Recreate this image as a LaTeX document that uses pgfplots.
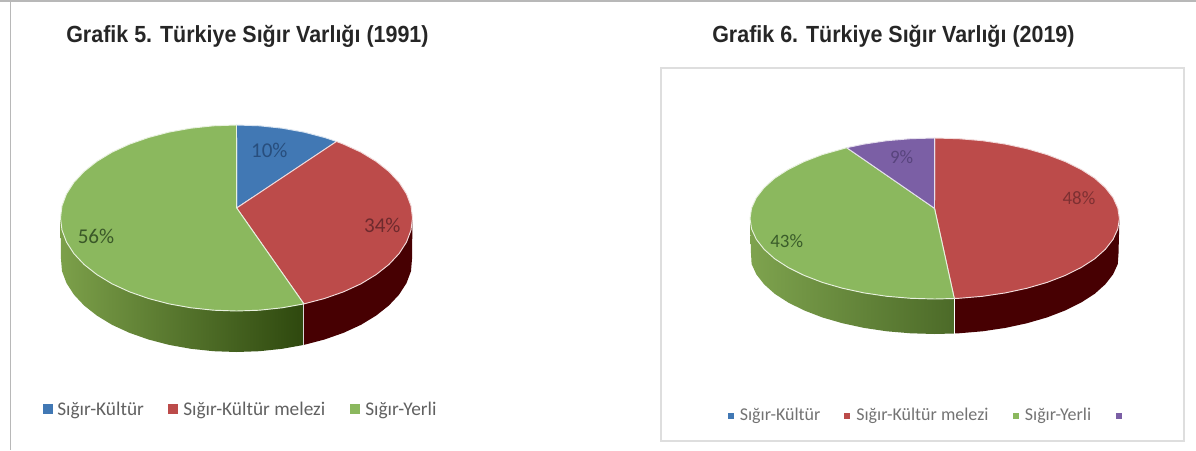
\documentclass[border=0pt]{standalone}
\usepackage{fontspec}
\usepackage{pgfplots}
\pgfplotsset{compat=1.18}
\setmainfont{Carlito}
\newfontfamily\titlefont[FakeStretch=0.92]{Liberation Sans Bold}
\definecolor{cblue}{HTML}{4178B4}
\definecolor{cred}{HTML}{BC4B4A}
\definecolor{cgreen}{HTML}{8BB85E}
\definecolor{cpurple}{HTML}{7B5FA5}
\definecolor{cmaroon}{HTML}{470002}
\tikzset{
  slice/.style={fill=#1,draw=white!80!#1,line width=0.7pt,line join=round},
  tl/.style={font=\titlefont\fontsize{17.5}{18}\selectfont,text=black!85,anchor=west,inner sep=0pt},
  lab/.style={font=\fontsize{15.8}{16}\selectfont,anchor=center,inner sep=0pt},
  labr/.style={font=\fontsize{14.2}{15}\selectfont,anchor=center,inner sep=0pt},
  leg/.style={font=\fontsize{14.5}{15}\selectfont,text=black!62,anchor=west,inner sep=0pt},
  legr/.style={font=\fontsize{13.5}{14}\selectfont,text=black!55,anchor=west,inner sep=0pt},
}
\begin{document}
\begin{tikzpicture}
\begin{axis}[
  width=897pt,height=337.5pt,scale only axis,
  xmin=0,xmax=1196,ymin=0,ymax=450,y dir=reverse,
  hide axis,clip=true,
]
% page background and frames
\addplot[no markers,fill=white,draw=none] coordinates {(0,0)(1196,0)(1196,450)(0,450)} --cycle;
\addplot[no markers,draw=black!28,line width=1.5pt] coordinates {(0,1)(1196,1)};
\addplot[no markers,draw=black!28,line width=1.1pt] coordinates {(10.5,0)(10.5,450)};
\addplot[no markers,fill=white,draw=black!13,line width=0.8pt] coordinates {(661,68)(1184,68)(1184,441)(661,441)} --cycle;

% ---- left pie: sides
\addplot[no markers,draw=none,fill=cmaroon] coordinates {
(303.9,303.9)(324.5,298.5)(343.6,291.8)(361,283.8)(376.1,274.6)(388.9,264.5)(399.1,253.6)(406.5,242.1)(411,230.1)(412.5,218)
(412,259)(411,271.1)(406.5,283.1)(399.1,294.6)(388.9,305.5)(376.1,315.6)(361,324.8)(343.6,332.8)(324.5,339.5)(303.9,344.9)} --cycle;
\addplot[no markers,draw=none,left color={rgb,255:red,124;green,160;blue,74},right color={rgb,255:red,46;green,72;blue,14}] coordinates {
(303.9,303.9)(282.1,307.8)(259.5,310.2)(236.5,311)(213.5,310.2)(190.9,307.8)(169.1,303.9)(148.5,298.5)(129.4,291.8)(112,283.8)(96.9,274.6)(84.1,264.5)(73.9,253.6)(66.5,242.1)(62,230.1)(60.5,218)
(61,259)(62,271.1)(66.5,283.1)(73.9,294.6)(84.1,305.5)(96.9,315.6)(112,324.8)(129.4,332.8)(148.5,339.5)(169.1,344.9)(190.9,348.8)(213.5,351.2)(236.5,352)(259.5,351.2)(282.1,348.8)(303.9,344.9)} --cycle;
\addplot[no markers,draw=white!85!black,line width=0.8pt] coordinates {(303.9,303.9)(303.9,344.9)};
% ---- left pie: top face
\addplot[no markers,slice=cblue] coordinates {
(236.7,208)(236.5,125)(259.5,125.8)(282.1,128.2)(303.9,132.1)(324.5,137.5)(336.5,141.5)} --cycle;
\addplot[no markers,slice=cred] coordinates {
(236.7,208)(336.5,141.5)(343.6,144.2)(361,152.2)(376.1,161.4)(388.9,171.5)(399.1,182.4)(406.5,193.9)(411,205.9)(412.5,218)(411,230.1)(406.5,242.1)(399.1,253.6)(388.9,264.5)(376.1,274.6)(361,283.8)(343.6,291.8)(324.5,298.5)(303.9,303.9)} --cycle;
\addplot[no markers,slice=cgreen] coordinates {
(236.7,208)(303.9,303.9)(282.1,307.8)(259.5,310.2)(236.5,311)(213.5,310.2)(190.9,307.8)(169.1,303.9)(148.5,298.5)(129.4,291.8)(112,283.8)(96.9,274.6)(84.1,264.5)(73.9,253.6)(66.5,242.1)(62,230.1)(60.5,218)(62,205.9)(66.5,193.9)(73.9,182.4)(84.1,171.5)(96.9,161.4)(112,152.2)(129.4,144.2)(148.5,137.5)(169.1,132.1)(190.9,128.2)(213.5,125.8)(236.5,125)} --cycle;

% ---- right pie: sides
\addplot[no markers,draw=none,fill=cmaroon] coordinates {
(954.3,298.5)(958.8,298.3)(982.5,296.3)(1005.4,292.9)(1027.1,288.2)(1047.1,282.4)(1065.3,275.4)(1081.2,267.5)(1094.7,258.8)(1105.3,249.3)(1113.1,239.3)(1117.8,229)(1119.4,218.5)
(1118.5,253.5)(1117.8,264)(1113.1,274.3)(1105.3,284.3)(1094.7,293.8)(1081.2,302.5)(1065.3,310.4)(1047.1,317.4)(1027.1,323.2)(1005.4,327.9)(982.5,331.3)(958.8,333.3)(954.3,333.5)} --cycle;
\addplot[no markers,draw=none,left color={rgb,255:red,126;green,163;blue,78},right color={rgb,255:red,76;green,106;blue,40}] coordinates {
(954.3,298.5)(934.7,299)(910.6,298.3)(886.9,296.3)(864,292.9)(842.3,288.2)(822.3,282.4)(804.1,275.4)(788.2,267.5)(774.7,258.8)(764.1,249.3)(756.3,239.3)(751.6,229)(750,218.5)
(751,253.5)(751.6,264)(756.3,274.3)(764.1,284.3)(774.7,293.8)(788.2,302.5)(804.1,310.4)(822.3,317.4)(842.3,323.2)(864,327.9)(886.9,331.3)(910.6,333.3)(934.7,334)(954.3,333.5)} --cycle;
\addplot[no markers,draw=white,line width=0.9pt] coordinates {(954.6,298.5)(954.6,334)};
% ---- right pie: top face
\addplot[no markers,slice=cred] coordinates {
(934.5,208.3)(934.7,138)(958.8,138.7)(982.5,140.7)(1005.4,144.1)(1027.1,148.8)(1047.1,154.6)(1065.3,161.6)(1081.2,169.5)(1094.7,178.2)(1105.3,187.7)(1113.1,197.7)(1117.8,208)(1119.4,218.5)(1117.8,229)(1113.1,239.3)(1105.3,249.3)(1094.7,258.8)(1081.2,267.5)(1065.3,275.4)(1047.1,282.4)(1027.1,288.2)(1005.4,292.9)(982.5,296.3)(958.8,298.3)(954.3,298.5)} --cycle;
\addplot[no markers,slice=cgreen] coordinates {
(934.5,208.3)(954.3,298.5)(934.7,299)(910.6,298.3)(886.9,296.3)(864,292.9)(842.3,288.2)(822.3,282.4)(804.1,275.4)(788.2,267.5)(774.7,258.8)(764.1,249.3)(756.3,239.3)(751.6,229)(750,218.5)(751.6,208)(756.3,197.7)(764.1,187.7)(774.7,178.2)(788.2,169.5)(804.1,161.6)(822.3,154.6)(846.7,147.7)} --cycle;
\addplot[no markers,slice=cpurple] coordinates {
(934.5,208.3)(846.7,147.7)(864,144.1)(886.9,140.7)(910.6,138.7)(934.7,138)} --cycle;

% legend keys
\addplot[only marks,mark=square*,mark size=3.3pt,color=cblue,mark options={draw=none}] coordinates {(47.5,409)};
\addplot[only marks,mark=square*,mark size=3.3pt,color=cred,mark options={draw=none}] coordinates {(173,409)};
\addplot[only marks,mark=square*,mark size=3.3pt,color=cgreen,mark options={draw=none}] coordinates {(354.5,409)};
\addplot[only marks,mark=square*,mark size=2pt,color=cblue,mark options={draw=none}] coordinates {(730.5,416)};
\addplot[only marks,mark=square*,mark size=2pt,color=cred,mark options={draw=none}] coordinates {(846.5,416)};
\addplot[only marks,mark=square*,mark size=2pt,color=cgreen,mark options={draw=none}] coordinates {(1015.5,416)};
\addplot[only marks,mark=square*,mark size=2pt,color=cpurple,mark options={draw=none}] coordinates {(1118.5,416)};

% titles
\node[tl] at (axis cs:66,36) {Grafik 5. Türkiye Sığır Varlığı (1991)};
\node[tl] at (axis cs:712,36) {Grafik 6. Türkiye Sığır Varlığı (2019)};
% data labels
\node[lab,text={rgb,255:red,40;green,78;blue,125}] at (axis cs:269.3,150.5) {10\%};
\node[lab,text={rgb,255:red,110;green,42;blue,45}] at (axis cs:382.3,225) {34\%};
\node[lab,text={rgb,255:red,58;green,88;blue,40}] at (axis cs:96,236) {56\%};
\node[labr,text={rgb,255:red,88;green,68;blue,125}] at (axis cs:901.7,157.3) {9\%};
\node[labr,text={rgb,255:red,125;green,48;blue,50}] at (axis cs:1079,197.7) {48\%};
\node[labr,text={rgb,255:red,58;green,92;blue,42}] at (axis cs:786.7,240.7) {43\%};
% legend text
\node[leg] at (axis cs:57,410.5) {Sığır-Kültür};
\node[leg] at (axis cs:183,410.5) {Sığır-Kültür melezi};
\node[leg] at (axis cs:365,410.5) {Sığır-Yerli};
\node[legr] at (axis cs:739.5,416) {Sığır-Kültür};
\node[legr] at (axis cs:856,416) {Sığır-Kültür melezi};
\node[legr] at (axis cs:1024.6,416) {Sığır-Yerli};
\end{axis}
\end{tikzpicture}
\end{document}
